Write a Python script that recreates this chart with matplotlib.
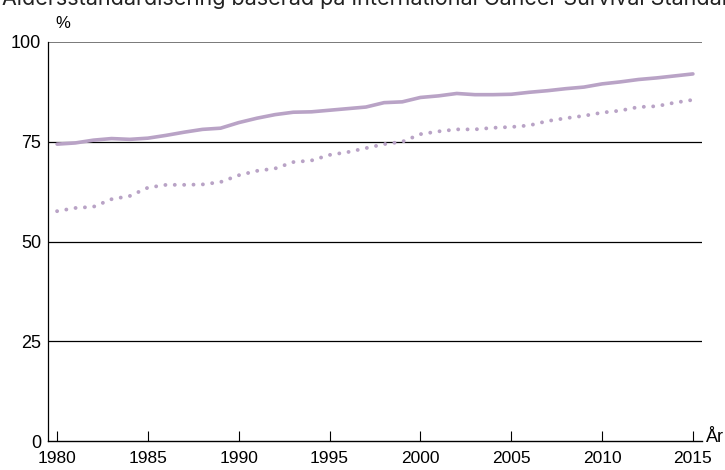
import matplotlib
matplotlib.use("Agg")
import matplotlib.pyplot as plt

years = list(range(1980, 2016))
solid_vals = [74.4, 74.7, 75.4, 75.8, 75.6, 75.9, 76.6, 77.4, 78.1, 78.4,
              79.8, 80.9, 81.8, 82.4, 82.5, 82.9, 83.3, 83.7, 84.8, 85.0,
              86.1, 86.5, 87.1, 86.8, 86.8, 86.9, 87.4, 87.8, 88.3, 88.7,
              89.5, 90.0, 90.6, 91.0, 91.5, 92.0]
dotted_vals = [57.6, 58.4, 58.7, 60.6, 61.4, 63.5, 64.2, 64.2, 64.3, 64.9,
               66.6, 67.7, 68.3, 69.9, 70.3, 71.7, 72.4, 73.4, 74.4, 75.0,
               76.9, 77.6, 78.1, 78.1, 78.5, 78.7, 79.1, 80.2, 80.9, 81.5,
               82.3, 82.8, 83.7, 83.9, 84.8, 85.5]
x_ticks = [1980, 1985, 1990, 1995, 2000, 2005, 2010, 2015]
y_ticks = [0, 25, 50, 75, 100]
title = "Åldersstandardisering baserad på International Cancer Survival Standards"

color = "#b9a3c6"
tickfont = "Liberation Sans"

fig = plt.figure(figsize=(7.25, 4.7), dpi=100)
ax = fig.add_axes([48/725, 1-441/470, (702-48)/725, (441-42)/470])

for v in [25, 50, 75]:
    ax.axhline(v, color="black", lw=0.9, zorder=1)
ax.axhline(100, color="#6e6e6e", lw=1.3, zorder=1)

ax.plot(years, solid_vals, color=color, lw=2.6, solid_capstyle="round", zorder=3)
ax.plot(years, dotted_vals, color=color, lw=2.8, linestyle=(0, (0.01, 2.4)),
        dash_capstyle="round", zorder=3)

ax.set_xlim(1979.5, 2015.5)
ax.set_ylim(0, 100)
for s in ["top", "right"]:
    ax.spines[s].set_visible(False)
ax.spines["left"].set_linewidth(0.9)
ax.spines["bottom"].set_linewidth(1.0)

ax.set_xticks(x_ticks)
ax.set_xticklabels([str(t) for t in x_ticks], fontsize=12.5, family=tickfont)
ax.set_yticks(y_ticks)
ax.set_yticklabels([str(t) for t in y_ticks], fontsize=13, family=tickfont)
ax.tick_params(axis="x", direction="in", length=7, width=0.8, pad=7.5)
ax.tick_params(axis="y", length=0, pad=5)

fig.text(55/725, 1-24/470, "%", fontsize=12, family=tickfont, ha="left", va="center")
fig.text(706/725, 1-438/470, "År", fontsize=13, family=tickfont, ha="left", va="center")
fig.text(2/725, 1-5/470, title, fontsize=15.5, family="Inter", ha="left",
         va="baseline", color="#222222")

fig.savefig("out.png", dpi=100)
